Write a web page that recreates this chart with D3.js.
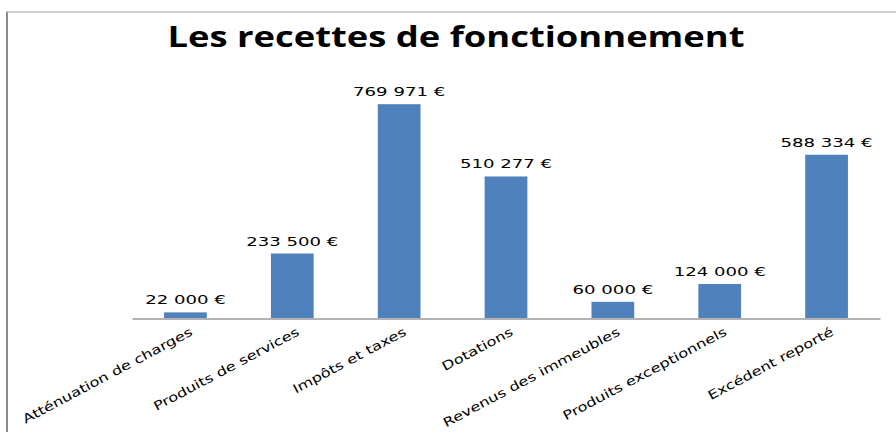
<!DOCTYPE html>
<html><head><meta charset="utf-8">
<script src="https://cdn.jsdelivr.net/npm/d3@7"></script>
<style>body{margin:0;background:#fff}svg{display:block}</style>
</head><body>
<svg id="c" width="896" height="432"></svg>
<script>
const title = "Les recettes de fonctionnement";
const categories = ["Atténuation de charges","Produits de services","Impôts et taxes","Dotations","Revenus des immeubles","Produits exceptionnels","Excédent reporté"];
const values = [22000, 233500, 769971, 510277, 60000, 124000, 588334];
const valueLabels = ["22 000 €","233 500 €","769 971 €","510 277 €","60 000 €","124 000 €","588 334 €"];
const yMax = 900000;

const svg = d3.select("#c");
const W = 896, H = 432;
const plot = {left:132, right:880, top:68, bottom:318.5};

// chart frame
svg.append("line").attr("x1",6).attr("x2",896).attr("y1",12).attr("y2",12).attr("stroke","#bdbdbd").attr("stroke-width",1.5);
svg.append("line").attr("x1",7).attr("x2",7).attr("y1",12).attr("y2",432).attr("stroke","#8c8c8c").attr("stroke-width",2);

const x = d3.scaleBand().domain(categories).range([plot.left, plot.right]).paddingInner(0.6).paddingOuter(0.3);
const y = d3.scaleLinear().domain([0,yMax]).range([plot.bottom, plot.top]);

svg.append("text").attr("x",456).attr("y",47).attr("text-anchor","middle")
  .attr("font-family","'Open Sans', sans-serif").attr("font-weight","bold").attr("font-size",28)
  .attr("textLength",577).attr("lengthAdjust","spacingAndGlyphs")
  .attr("fill","#000").text(title);

svg.selectAll("rect.bar").data(values).enter().append("rect")
  .attr("x",(d,i)=>x(categories[i])).attr("width",x.bandwidth())
  .attr("y",d=>y(d)).attr("height",d=>y(0)-y(d)).attr("fill","#4F81BD");

// axis
const ax = svg.append("g").attr("transform",`translate(0,${plot.bottom})`)
  .call(d3.axisBottom(x).tickSize(0).tickFormat(""));
ax.select(".domain").attr("stroke","#b3b3b3").attr("stroke-width",2);

// value labels
svg.selectAll("text.val").data(values).enter().append("text")
  .attr("transform",(d,i)=>`translate(${x(categories[i])+x.bandwidth()/2},${y(d)-8}) scale(1.45,1)`)
  .attr("text-anchor","middle").attr("font-family","'DejaVu Sans', sans-serif").attr("font-size",12.5)
  .attr("fill","#000").text((d,i)=>valueLabels[i]);

// category labels
svg.selectAll("text.cat").data(categories).enter().append("text")
  .attr("transform",d=>`translate(${x(d)+x.bandwidth()/2+8},${plot.bottom+16}) rotate(-28) scale(1.3,1)`)
  .attr("text-anchor","end").attr("font-family","'DejaVu Sans', sans-serif").attr("font-size",12.5)
  .attr("fill","#000").text(d=>d);
</script>
</body></html>
